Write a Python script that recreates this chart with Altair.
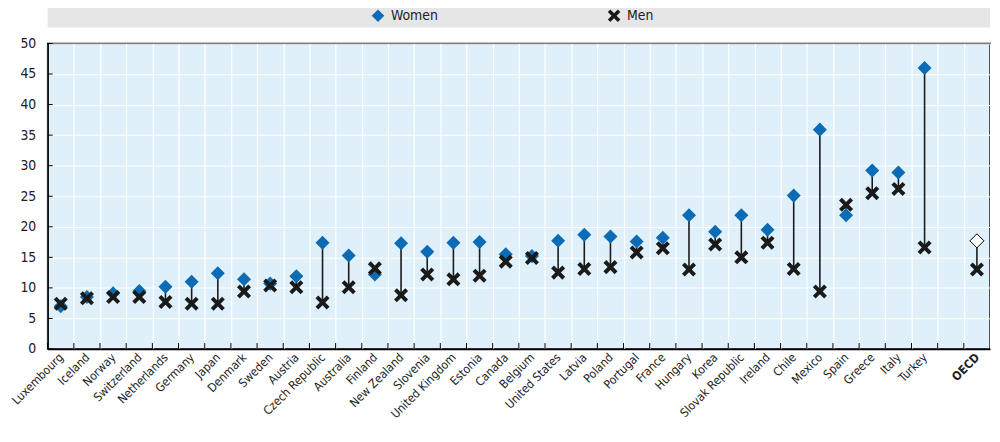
import altair as alt
import pandas as pd

countries = ["Luxembourg", "Iceland", "Norway", "Switzerland", "Netherlands", "Germany",
             "Japan", "Denmark", "Sweden", "Austria", "Czech Republic", "Australia",
             "Finland", "New Zealand", "Slovenia", "United Kingdom", "Estonia", "Canada",
             "Belgium", "United States", "Latvia", "Poland", "Portugal", "France",
             "Hungary", "Korea", "Slovak Republic", "Ireland", "Chile", "Mexico",
             "Spain", "Greece", "Italy", "Turkey", "OECD"]
women = [7.0, 8.5, 9.1, 9.5, 10.2, 11.0, 12.4, 11.4, 10.7, 11.9, 17.4, 15.3,
         12.2, 17.3, 15.9, 17.4, 17.5, 15.5, 15.2, 17.7, 18.7, 18.4, 17.6, 18.2,
         21.9, 19.2, 21.9, 19.5, 25.1, 35.9, 21.9, 29.2, 28.9, 46.0, 17.7]
men = [7.4, 8.3, 8.5, 8.5, 7.7, 7.4, 7.4, 9.4, 10.4, 10.1, 7.6, 10.1,
       13.2, 8.8, 12.2, 11.4, 12.0, 14.3, 14.9, 12.5, 13.1, 13.4, 15.8, 16.5,
       13.0, 17.1, 15.0, 17.4, 13.1, 9.4, 23.6, 25.5, 26.2, 16.6, 13.0]
y_ticks = list(range(0, 51, 5))

gap = " "
x_domain = countries[:-1] + [gap] + ["OECD"]

BLUE = "#0B6BB5"
DARK = "#1A1A1A"
X_PATH = ("M-1,-0.6L-0.6,-1L0,-0.4L0.6,-1L1,-0.6L0.4,0L1,0.6L0.6,1L0,0.4"
          "L-0.6,1L-1,0.6L-0.4,0Z")
FONT = "Liberation Sans Narrow, DejaVu Sans Condensed, Arial Narrow, Roboto, Liberation Sans, sans-serif"

wide = pd.DataFrame({"country": countries, "Women": women, "Men": men})
long = wide.melt("country", var_name="sex", value_name="value")
slots = pd.DataFrame({"country": x_domain})
yt = pd.DataFrame({"v": y_ticks})

W, H = 950, 308

xscale = alt.Scale(domain=x_domain, paddingInner=0, paddingOuter=0)
yscale = alt.Scale(domain=[0, 50], nice=False)

x_axis = alt.Axis(labelAngle=-45, labelAlign="right", labelBaseline="middle",
                  labelFontSize=12, labelFont=FONT, labelColor="#222222",
                  labelPadding=6, ticks=False, domain=True, domainColor="#000000",
                  domainWidth=1.5, grid=True, gridColor="#FFFFFF", gridWidth=1.2,
                  tickBand="extent", labelOverlap=False,
                  labelFontWeight={"expr": "datum.value == 'OECD' ? 'bold' : 'normal'"})
y_axis = alt.Axis(values=y_ticks, labelFontSize=14, labelFont=FONT,
                  labelColor="#222222", labelPadding=12, ticks=False,
                  domain=True, domainColor="#000000", domainWidth=1.5,
                  grid=True, gridColor="#FFFFFF", gridWidth=1.2)

def xenc():
    return alt.X("country:N", scale=xscale, sort=x_domain, title=None, axis=x_axis)

band = alt.Chart(pd.DataFrame({"k": [0]})).mark_rect(color="#E6E6E6").encode(
    x=alt.value(0), x2=alt.value(W), y=alt.value(-40), y2=alt.value(-16))

xticks = alt.Chart(slots).mark_rule(color="#000000", strokeWidth=1).encode(
    x=alt.X("country:N", scale=xscale, sort=x_domain, title=None, axis=x_axis, bandPosition=0),
    y=alt.value(H - 6), y2=alt.value(H))

yticks = alt.Chart(yt).mark_rule(color="#000000", strokeWidth=1).encode(
    y=alt.Y("v:Q", scale=yscale, title=None, axis=y_axis),
    x=alt.value(0), x2=alt.value(5))

rules = alt.Chart(wide).mark_rule(color=DARK, strokeWidth=1.6).encode(
    x=xenc(), y=alt.Y("Women:Q", scale=yscale, title=None, axis=y_axis), y2="Men:Q")

pts = alt.Chart(long).transform_filter(
    "!(datum.country == 'OECD' && datum.sex == 'Women')"
).mark_point(filled=True, size=200, opacity=1).encode(
    x=xenc(),
    y=alt.Y("value:Q", scale=yscale, title=None, axis=y_axis),
    color=alt.Color("sex:N", scale=alt.Scale(domain=["Women", "Men"], range=[BLUE, DARK]),
                    legend=alt.Legend(title=None, orient="none", direction="horizontal",
                                      legendX=326, legendY=-35, columnPadding=170,
                                      labelFont=FONT, labelFontSize=14, labelColor="#222222",
                                      symbolSize=160, symbolStrokeWidth=0, padding=0,
                                      labelOffset=6)),
    shape=alt.Shape("sex:N", scale=alt.Scale(domain=["Women", "Men"], range=["diamond", X_PATH]),
                    legend=alt.Legend(title=None)),
    order=alt.Order("sex:N", sort="descending"),
)

oecd = alt.Chart(long).transform_filter(
    "datum.country == 'OECD' && datum.sex == 'Women'"
).mark_point(filled=True, size=200, shape="diamond", fill="#FFFFFF", stroke="#000000",
             strokeWidth=1, opacity=1).encode(
    x=xenc(),
    y=alt.Y("value:Q", scale=yscale, title=None, axis=y_axis),
)

chart = alt.layer(band, xticks, yticks, rules, pts, oecd).properties(
    width=W, height=H,
    autosize=alt.AutoSizeParams(type="none"),
    padding={"left": 40, "top": 34, "right": 2, "bottom": 92},
).configure(font=FONT).configure_view(fill="#DFF0FA", stroke="#000000", strokeWidth=1.5)

chart.save("out.html", embed_options={"renderer": "svg", "actions": False})
